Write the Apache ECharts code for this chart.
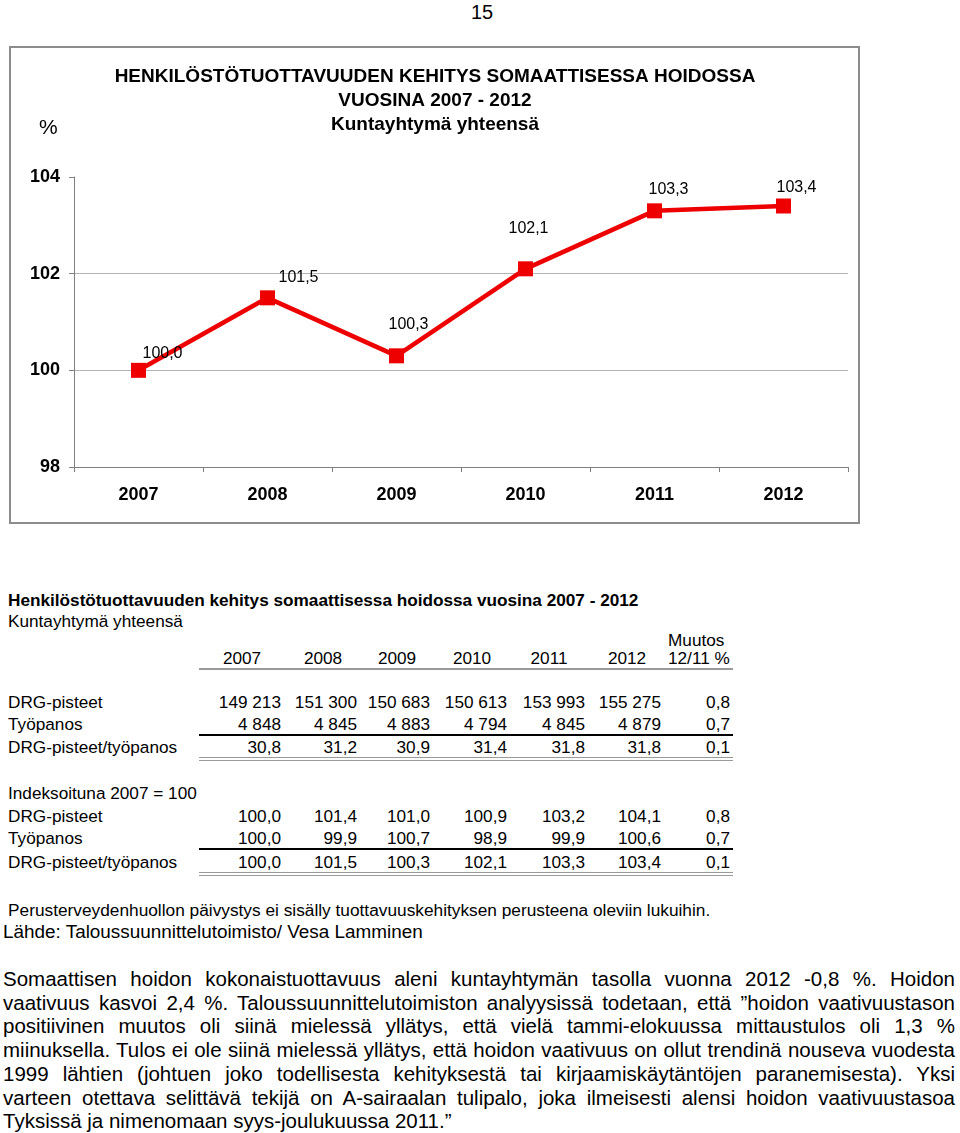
<!DOCTYPE html>
<html><head><meta charset="utf-8">
<script src="https://cdn.jsdelivr.net/npm/echarts@6/dist/echarts.min.js"></script>
<style>
html,body{margin:0;padding:0;background:#fff;}
body{width:960px;height:1133px;position:relative;overflow:hidden;font-family:"Liberation Sans",Arial,sans-serif;color:#000;}
.t{position:absolute;white-space:nowrap;line-height:20px;height:20px;}
.hl{position:absolute;}
#para{position:absolute;left:3px;top:967px;width:952px;font-size:20.5px;line-height:23.7px;}
#para div{text-align:justify;text-align-last:justify;white-space:nowrap;}
#para div.last{text-align-last:left;}
</style></head>
<body>
<div class="t" style="left:471px;top:2px;font-size:20px;">15</div>
<div id="chart" style="position:absolute;left:10px;top:47px;width:850px;height:477px;"></div>
<div style="position:absolute;left:9px;top:46px;width:851px;height:478px;border:2px solid #8c8c8c;box-sizing:border-box;pointer-events:none;"></div>
<div id="table"></div>
<div class="t" style="left:8px;top:900px;font-size:17.3px;">Perusterveydenhuollon päivystys ei sisälly tuottavuuskehityksen perusteena oleviin lukuihin.</div>
<div class="t" style="left:3px;top:922px;font-size:18.9px;">Lähde: Taloussuunnittelutoimisto/ Vesa Lamminen</div>
<div id="para"></div>
<script>
// ---- data ----
const years = ['2007', '2008', '2009', '2010', '2011', '2012'];
const indexValues = [100.0, 101.5, 100.3, 102.1, 103.3, 103.4];
const yTicks = [98, 100, 102, 104];
const labelOffsets = [[24, -17], [31, -20], [12, -31], [3, -40], [14, -21], [13, -18]];

const drgPisteet = [149213, 151300, 150683, 150613, 153993, 155275];
const tyopanos = [4848, 4845, 4883, 4794, 4845, 4879];
const drgPerTyo = [30.8, 31.2, 30.9, 31.4, 31.8, 31.8];
const muutosAbs = [0.8, 0.7, 0.1];
const idxDrg = [100.0, 101.4, 101.0, 100.9, 103.2, 104.1];
const idxTyo = [100.0, 99.9, 100.7, 98.9, 99.9, 100.6];
const idxRatio = indexValues;
const muutosIdx = [0.8, 0.7, 0.1];

const paraLines = [
  'Somaattisen hoidon kokonaistuottavuus aleni kuntayhtymän tasolla vuonna 2012 -0,8 %.  Hoidon',
  'vaativuus kasvoi 2,4 %.  Taloussuunnittelutoimiston analyysissä todetaan, että ”hoidon vaativuustason',
  'positiivinen muutos oli siinä mielessä yllätys, että vielä tammi-elokuussa mittaustulos oli 1,3 %',
  'miinuksella. Tulos ei ole siinä mielessä yllätys, että hoidon vaativuus on ollut trendinä nouseva vuodesta',
  '1999 lähtien (johtuen joko todellisesta kehityksestä tai kirjaamiskäytäntöjen paranemisesta).  Yksi',
  'varteen otettava selittävä tekijä on A-sairaalan tulipalo, joka ilmeisesti alensi hoidon vaativuustasoa',
  'Tyksissä ja nimenomaan syys-joulukuussa 2011.”'
];

// ---- chart ----
const fmt1 = v => v.toFixed(1).replace('.', ',');
const FONT = '"Liberation Sans", Arial, sans-serif';
const chart = echarts.init(document.getElementById('chart'));
chart.setOption({
  animation: false,
  title: [{
    text: 'HENKILÖSTÖTUOTTAVUUDEN KEHITYS SOMAATTISESSA HOIDOSSA\nVUOSINA 2007 - 2012\nKuntayhtymä yhteensä',
    left: 'center', top: 13,
    textStyle: {fontFamily: FONT, fontSize: 19, fontWeight: 'bold', lineHeight: 24, color: '#000'}
  }, {
    text: '%', left: 24, top: 66,
    textStyle: {fontFamily: FONT, fontSize: 21, fontWeight: 'normal', color: '#000'}
  }],
  grid: {left: 64, right: 12, top: 130, bottom: 57},
  xAxis: {
    type: 'category', data: years, boundaryGap: true,
    axisLine: {lineStyle: {color: '#808080', width: 1}},
    axisTick: {show: true, length: 5, lineStyle: {color: '#808080'}},
    axisLabel: {fontFamily: FONT, fontSize: 18, fontWeight: 'bold', color: '#000', margin: 19}
  },
  yAxis: {
    type: 'value', min: yTicks[0], max: yTicks[yTicks.length - 1], interval: 2,
    axisLine: {show: true, lineStyle: {color: '#808080', width: 1}},
    axisTick: {show: true, length: 5, lineStyle: {color: '#808080'}},
    axisLabel: {fontFamily: FONT, fontSize: 18, fontWeight: 'bold', color: '#000', margin: 14},
    splitLine: {show: true, lineStyle: {color: ['#808080', '#b4b4b4', '#b4b4b4', 'rgba(0,0,0,0)'], width: 1}}
  },
  series: [{
    type: 'line',
    data: indexValues.map((v, i) => ({
      value: v,
      label: {offset: labelOffsets[i]}
    })),
    lineStyle: {color: '#ee0000', width: 4.5},
    itemStyle: {color: '#ee0000'},
    symbol: 'rect', symbolSize: 15,
    label: {
      show: true, position: 'inside',
      formatter: p => fmt1(p.value),
      fontFamily: FONT, fontSize: 16, color: '#000'
    }
  }]
});

// ---- table ----
const TFS = 17.2;
const tbl = document.getElementById('table');
function txt(str, left, cy, opts) {
  const d = document.createElement('div');
  d.className = 't';
  d.textContent = str;
  d.style.top = (cy - 10) + 'px';
  d.style.fontSize = (opts && opts.size || TFS) + 'px';
  if (opts && opts.bold) d.style.fontWeight = 'bold';
  if (opts && opts.right) { d.style.right = (960 - left) + 'px'; }
  else if (opts && opts.center) { d.style.left = (left - 100) + 'px'; d.style.width = '200px'; d.style.textAlign = 'center'; }
  else d.style.left = left + 'px';
  tbl.appendChild(d);
}
function hline(y, h, color, x1, x2) {
  const d = document.createElement('div');
  d.className = 'hl';
  d.style.left = x1 + 'px'; d.style.width = (x2 - x1) + 'px';
  d.style.top = y + 'px'; d.style.height = h + 'px'; d.style.background = color;
  tbl.appendChild(d);
}
const fmtInt = v => String(v).replace(/\B(?=(\d{3})+(?!\d))/g, ' ');
const colRight = [281, 357, 430, 507, 585, 661];
const colHeadCenter = [242, 323, 397, 472, 549, 627];
const muutosRight = 730;

txt('Henkilöstötuottavuuden kehitys somaattisessa hoidossa vuosina 2007 - 2012', 8, 600, {bold: true});
txt('Kuntayhtymä yhteensä', 8, 621);
years.forEach((y, i) => txt(y, colHeadCenter[i], 658, {center: true}));
txt('Muutos', 668, 640);
txt('12/11 %', 668, 658);
hline(668, 2, '#9a9a9a', 199, 733);

function row(label, vals, f, muutos, cy) {
  txt(label, 8, cy);
  vals.forEach((v, i) => txt(f(v), colRight[i], cy, {right: true}));
  txt(fmt1(muutos), muutosRight, cy, {right: true});
}
row('DRG-pisteet', drgPisteet, fmtInt, muutosAbs[0], 702);
row('Työpanos', tyopanos, fmtInt, muutosAbs[1], 724);
hline(734, 2, '#000', 199, 733);
row('DRG-pisteet/työpanos', drgPerTyo, fmt1, muutosAbs[2], 747);
hline(757, 1, '#9a9a9a', 199, 733);
hline(760, 1, '#9a9a9a', 199, 733);

txt('Indeksoituna 2007 = 100', 8, 793);
row('DRG-pisteet', idxDrg, fmt1, muutosIdx[0], 816);
row('Työpanos', idxTyo, fmt1, muutosIdx[1], 838);
hline(848, 2, '#000', 199, 733);
row('DRG-pisteet/työpanos', idxRatio, fmt1, muutosIdx[2], 862);
hline(872, 1, '#9a9a9a', 199, 733);
hline(875, 1, '#9a9a9a', 199, 733);

// ---- paragraph ----
const para = document.getElementById('para');
paraLines.forEach((l, i) => {
  const d = document.createElement('div');
  d.textContent = l;
  if (i === paraLines.length - 1) d.className = 'last';
  para.appendChild(d);
  // keep the line inside the column if its natural width is too large
  const s = document.createElement('span');
  s.textContent = l;
  s.style.cssText = 'position:absolute;visibility:hidden;white-space:nowrap;';
  para.appendChild(s);
  const w = s.getBoundingClientRect().width;
  para.removeChild(s);
  if (w > 952) d.style.letterSpacing = ((952 - w) / l.length) + 'px';
});
</script>
</body></html>
